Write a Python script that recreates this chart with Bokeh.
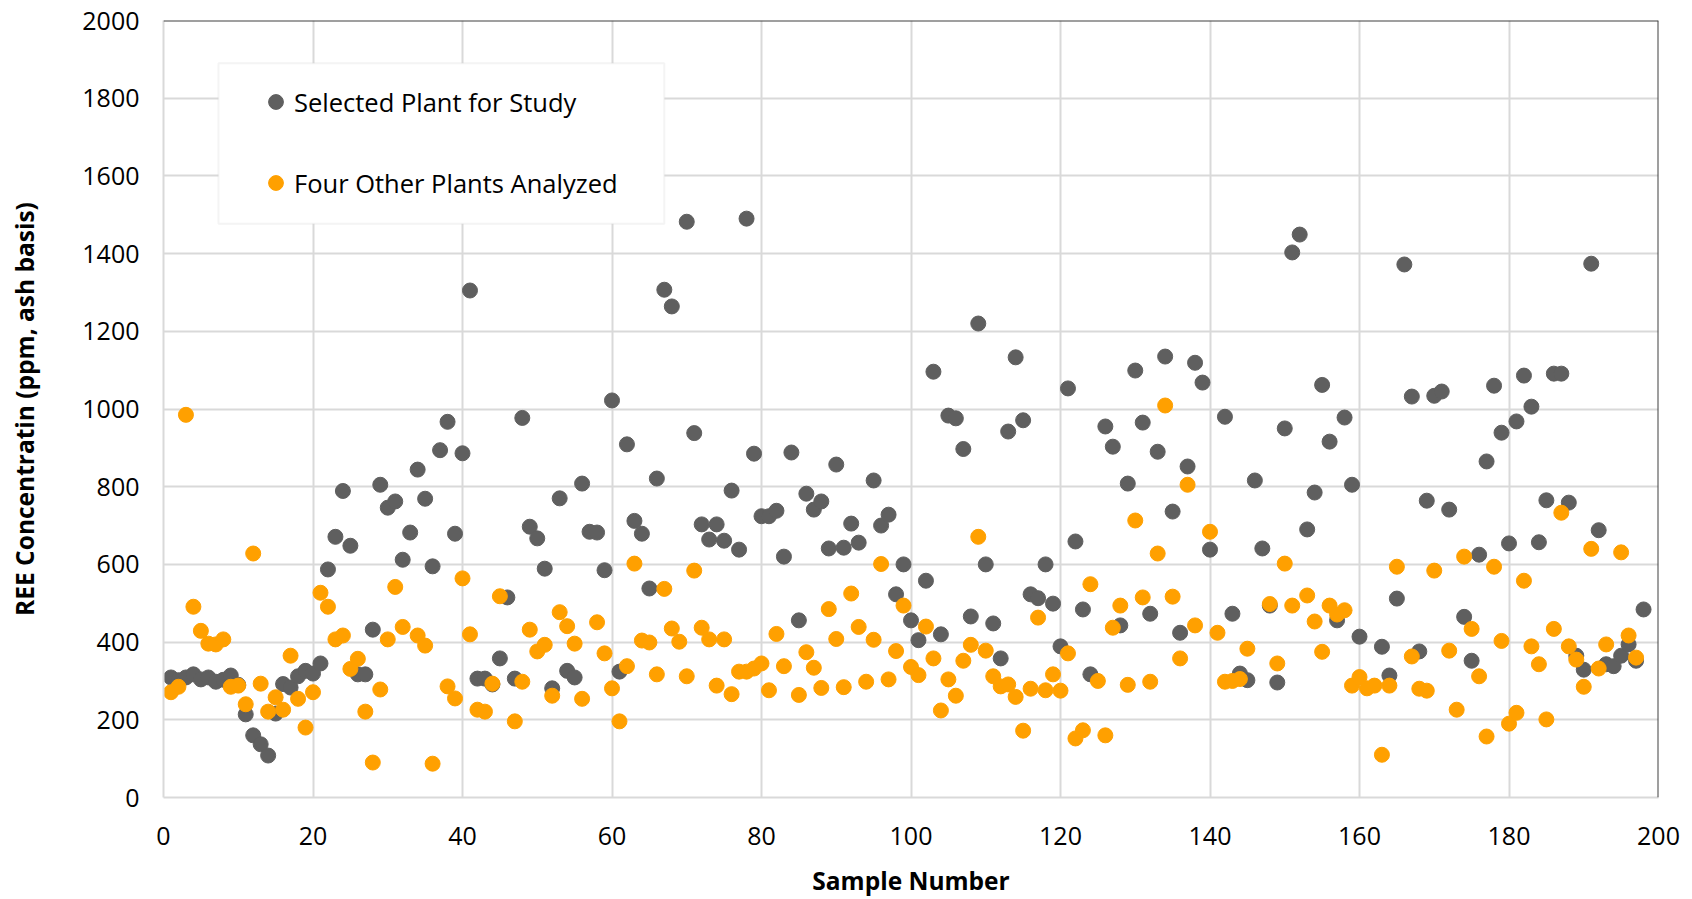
from bokeh.plotting import figure
from bokeh.models import Range1d, Span, Legend, LegendItem, FixedTicker, BoxAnnotation
from bokeh.embed import file_html
from bokeh.resources import INLINE

# Selected Plant for Study
sel_sample = [1,2,3,4,5,6,7,8,9,10,11,12,13,14,15,16,17,18,19,20,
              21,22,23,24,25,26,27,28,29,30,31,32,33,34,35,36,37,38,39,40,
              41,42,43,44,45,46,47,48,49,50,51,52,53,54,55,56,57,58,59,60,
              61,62,63,64,65,66,67,68,70,71,72,73,74,75,76,77,78,79,80,
              81,82,83,84,85,86,87,88,89,90,91,92,93,95,96,97,98,99,100,
              101,102,103,104,105,106,107,108,109,110,111,112,113,114,115,116,117,118,119,120,
              121,122,123,124,126,127,128,129,130,131,132,133,134,135,136,137,138,139,140,
              142,143,144,145,146,147,148,149,150,151,152,153,154,155,156,157,158,159,160,
              163,164,165,166,167,168,169,170,171,172,174,175,176,177,178,179,180,
              181,182,183,184,185,186,187,188,189,190,191,192,193,194,195,196,197,198]
sel_ree = [309,302,309,317,304,309,298,303,314,290,214,160,137,108,216,292,283,312,326,319,
           345,587,671,789,648,317,317,432,805,746,762,612,682,844,769,595,894,967,679,886,
           1305,306,306,291,358,515,306,977,697,667,589,281,770,326,309,808,684,682,585,1022,
           324,909,712,679,538,821,1307,1264,1482,938,703,664,703,661,790,638,1490,885,724,
           724,738,620,888,456,782,741,762,641,857,643,705,656,816,700,728,523,600,456,
           405,558,1096,420,983,976,897,466,1220,600,448,358,942,1133,971,523,513,600,499,389,
           1053,659,484,317,955,903,443,808,1099,965,473,890,1135,736,424,852,1119,1068,638,
           980,473,319,302,816,641,494,296,950,1403,1449,690,785,1062,916,456,978,805,414,
           388,314,512,1372,1032,376,764,1034,1045,741,465,352,625,865,1060,939,654,
           968,1086,1006,657,765,1091,1091,759,365,329,1374,688,343,338,365,394,352,484]

# Four Other Plants Analyzed
oth_sample = [1,2,3,4,5,6,7,8,9,10,11,12,13,14,15,16,17,18,19,20,
              21,22,23,24,25,26,27,28,29,30,31,32,34,35,36,38,39,40,
              41,42,43,44,45,47,48,49,50,51,52,53,54,55,56,58,59,60,61,
              62,63,64,65,66,67,68,69,70,71,72,73,74,75,76,77,78,79,80,81,
              82,83,85,86,87,88,89,90,91,92,93,94,95,96,97,98,99,100,101,
              102,103,104,105,106,107,108,109,110,111,112,113,114,115,116,117,118,119,120,121,
              122,123,124,125,126,127,128,129,130,131,132,133,134,135,136,137,138,140,141,
              142,143,144,145,148,149,150,151,153,154,155,156,157,158,159,160,161,
              162,163,164,165,167,168,169,170,172,173,174,175,176,177,178,179,180,181,
              182,183,184,185,186,187,188,189,190,191,192,193,195,196,197]
oth_ree = [271,285,985,491,429,396,394,407,285,288,240,628,293,221,258,226,365,254,180,271,
           527,491,407,417,331,357,221,90,278,407,542,439,417,391,87,286,255,564,
           420,226,221,293,518,196,298,432,376,393,262,477,441,396,254,451,371,281,196,
           338,602,404,399,317,537,435,401,312,584,437,407,288,407,266,324,324,332,345,276,
           421,338,264,374,334,282,485,408,284,525,439,298,406,601,304,377,494,336,315,
           440,358,224,304,262,352,393,671,378,312,286,291,259,172,280,463,276,317,275,371,
           152,173,549,300,160,437,494,290,713,515,298,628,1009,517,358,805,443,684,424,
           298,300,305,383,498,345,602,494,520,453,375,494,471,482,288,310,281,
           288,110,288,594,363,280,275,584,378,226,620,434,312,157,594,403,190,218,
           558,389,343,201,434,733,389,355,285,640,332,394,631,417,360]

x_ticks = [0, 20, 40, 60, 80, 100, 120, 140, 160, 180, 200]
y_ticks = [0, 200, 400, 600, 800, 1000, 1200, 1400, 1600, 1800, 2000]

FONT = "Open Sans"
GREY = "#5f5f5f"
ORANGE = "#ffa000"
GRID = "#d9d9d9"

# legend frame (in plot area coordinates)
LEG_LEFT, LEG_RIGHT, LEG_TOP, LEG_BOTTOM = 7.36, 67.0, 1890, 1477

p = figure(width=1692, height=899, output_backend="svg", toolbar_location=None,
           x_range=Range1d(0, 200), y_range=Range1d(0, 2000),
           min_border_left=163, min_border_right=34, min_border_top=20, min_border_bottom=99)
p.outline_line_color = None
p.background_fill_color = "white"
p.border_fill_color = "white"

r_sel = p.scatter(sel_sample, sel_ree, size=15, color=GREY, line_color=GREY)
r_oth = p.scatter(oth_sample, oth_ree, size=15, color=ORANGE, line_color=ORANGE)

for ax in (p.xaxis[0], p.yaxis[0]):
    ax.axis_line_color = GRID
    ax.axis_line_width = 2
    ax.major_tick_line_color = None
    ax.minor_tick_line_color = None
    ax.major_tick_out = 0
    ax.major_tick_in = 0
    ax.minor_tick_out = 0
    ax.major_label_text_font = FONT
    ax.major_label_text_font_size = "25px"
    ax.major_label_text_color = "black"
    ax.axis_label_text_font = FONT
    ax.axis_label_text_font_style = "bold"
    ax.axis_label_text_font_size = "24.5px"
    ax.axis_label_text_color = "black"

p.xaxis.ticker = FixedTicker(ticks=x_ticks)
p.yaxis.ticker = FixedTicker(ticks=y_ticks)
p.xaxis.axis_label = "Sample Number"
p.yaxis.axis_label = "REE Concentratin (ppm, ash basis)"
p.xaxis.major_label_standoff = 29
p.xaxis.axis_label_standoff = 16
p.yaxis.major_label_standoff = 24
p.yaxis.axis_label_standoff = 38

p.xgrid.ticker = FixedTicker(ticks=x_ticks)
p.ygrid.ticker = FixedTicker(ticks=y_ticks)
for g in (p.xgrid[0], p.ygrid[0]):
    g.grid_line_color = GRID
    g.grid_line_width = 2

p.add_layout(Span(location=2000, dimension="width", line_color="#404040", line_width=2))
p.add_layout(Span(location=200, dimension="height", line_color="#404040", line_width=2))

p.add_layout(BoxAnnotation(left=LEG_LEFT, right=LEG_RIGHT, top=LEG_TOP, bottom=LEG_BOTTOM,
                           fill_color="white", fill_alpha=1, line_color=GRID, line_width=2))

legend = Legend(items=[LegendItem(label="Selected Plant for Study", renderers=[r_sel]),
                       LegendItem(label="Four Other Plants Analyzed", renderers=[r_oth])],
                location=(94, 596))
legend.padding = 0
legend.margin = 0
legend.spacing = 44
legend.glyph_width = 37
legend.glyph_height = 37
legend.label_height = 37
legend.label_standoff = 0
legend.label_text_font = FONT
legend.label_text_font_size = "25.5px"
legend.label_text_color = "black"
legend.border_line_color = None
legend.background_fill_alpha = 0
p.add_layout(legend, "center")

open("out.html", "w").write(file_html(p, INLINE))
